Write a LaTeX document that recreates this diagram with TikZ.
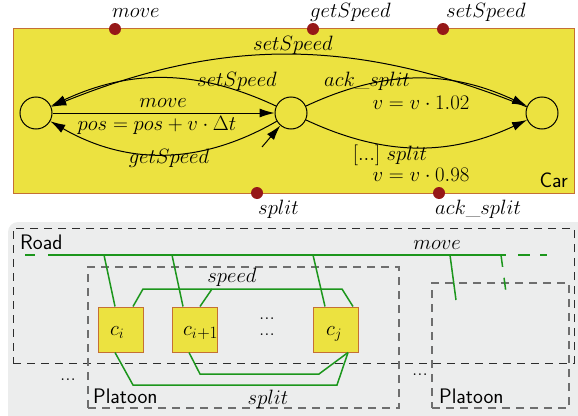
\documentclass[tikz,border=0pt]{standalone}
\usetikzlibrary{arrows.meta}
\definecolor{carfill}{RGB}{236,226,64}
\definecolor{carborder}{RGB}{196,112,52}
\definecolor{dotred}{RGB}{150,24,24}
\definecolor{glc}{RGB}{28,150,28}
\definecolor{bgc}{RGB}{236,237,237}
\definecolor{roadc}{RGB}{45,45,45}
\definecolor{platc}{RGB}{110,110,110}
\begin{document}
\begin{tikzpicture}[x=1pt,y=-1pt,
  every node/.style={font=\fontsize{21}{25}\selectfont},
  sf/.style={font=\fontsize{21}{25}\selectfont\sffamily},
  st/.style={circle,draw,minimum size=32pt,inner sep=0pt,line width=1pt},
  arc/.style={-{Latex[length=15pt,width=9pt]},line width=1pt},
  port/.style={circle,fill=dotred,minimum size=12pt,inner sep=0pt},
  lab/.style={inner sep=0pt},
  car/.style={draw=carborder,fill=carfill,line width=1pt,minimum size=45pt,inner sep=0pt},
  gl/.style={draw=glc,line width=1.5pt},
  roadbox/.style={draw=roadc,dash pattern=on 8pt off 6pt,line width=1pt,inner sep=0pt},
  platbox/.style={draw=platc,dash pattern=on 8pt off 6pt,line width=1.5pt,inner sep=0pt}]

\useasboundingbox (0,0) rectangle (578,415);

% ---------- Car automaton ----------
\node[draw=carborder,fill=carfill,line width=1pt,minimum width=561pt,minimum height=164.5pt,inner sep=0pt] (carbox) at (293.5,110.75) {};
\node[sf,lab,anchor=base east] (carlab) at (568,187) {Car};

\node[port] (pmove) at (115,29) {};
\node[port] (pget) at (313,29) {};
\node[port] (pset) at (443,29) {};
\node[port] (psplit) at (257,193) {};
\node[port] (pack) at (439,193) {};
\node[lab,anchor=base west] (tmove) at (112,17) {$move$};
\node[lab,anchor=base west] (tget) at (310,17) {$getSpeed$};
\node[lab,anchor=base west] (tset) at (446,17) {$setSpeed$};
\node[lab,anchor=base west] (tsplit) at (258,214) {$split$};
\node[lab,anchor=base west] (tack) at (435,214) {$ack\_split$};

\node[st] (L) at (36,113) {};
\node[st] (M) at (291,113) {};
\node[st] (R) at (542,113) {};
\coordinate (init) at (262,147);

\draw[arc] (init) -- (M);
\draw[arc] (L) -- (M);
\draw[arc] (M) to[bend right=25] (L);
\draw[arc] (M) to[bend left=30] (L);
\draw[arc] (R) to[bend right=22] (L);
\draw[arc] (M) to[bend left=25] (R);
\draw[arc] (M) to[bend right=25] (R);

\node[lab] (lmove) at (163,103) {$move$};
\node[lab] (lpos) at (157,125) {$pos = pos + v\cdot\Delta t$};
\node[lab] (lset1) at (237,81) {$setSpeed$};
\node[lab] (lget) at (169,158) {$getSpeed$};
\node[lab] (lset2) at (293,45.5) {$setSpeed$};
\node[lab] (lack) at (367,81) {$ack\_split$};
\node[lab] (lup) at (421,102.5) {$v = v\cdot 1.02$};
\node[lab] (lspl) at (390,155) {$[...]~split$};
\node[lab] (ldown) at (421,175) {$v = v\cdot 0.98$};

% ---------- Road / platoons ----------
\fill[bgc,rounded corners=10pt] (8,222) rectangle (600,440);
\node[roadbox,minimum width=561pt,minimum height=135pt] (road) at (293.5,295.5) {};
\node[platbox,minimum width=311pt,minimum height=141pt] (plat1) at (243.5,337.5) {};
\node[platbox,minimum width=137pt,minimum height=125pt] (plat2) at (500.5,345.5) {};
\node[sf,lab,anchor=base west] (troad) at (20,249) {Road};
\node[sf,lab,anchor=base west] (tplat1) at (93,403) {Platoon};
\node[sf,lab,anchor=base west] (tplat2) at (439,403) {Platoon};
\node[lab,anchor=base] (dl) at (68,380) {...};
\node[lab,anchor=base] (dr) at (420,375) {...};
\node[lab,align=center,font=\fontsize{21}{16}\selectfont,anchor=base] (dm) at (267,335) {...\\...};

\node[car] (ci) at (120.5,329.5) {};
\node[car] (ci1) at (194.5,329.5) {};
\node[car] (cj) at (336,329.5) {};
\node[lab,anchor=base west] (tci) at (110,335) {$c_i$};
\node[lab,anchor=base west] (tci1) at (183,335) {$c_{i}$\raisebox{-3pt}{\fontsize{17}{18}\selectfont$+1$}};
\node[lab,anchor=base west] (tcj) at (326,335) {$c_j$};

% move bus
\coordinate (m0) at (25,255);
\coordinate (m1) at (35,255);
\coordinate (m2) at (48,255);
\coordinate (m3) at (506,255);
\coordinate (m4) at (518,255);
\coordinate (m5) at (530,255);
\coordinate (m6) at (540,255);
\coordinate (m7) at (547,255);
\draw[gl] (m0) -- (m1);
\draw[gl] (m2) -- (m3);
\draw[gl] (m4) -- (m5);
\draw[gl] (m6) -- (m7);
\coordinate (j1) at (104,255);
\coordinate (j2) at (172,255);
\coordinate (j3) at (313,255);
\coordinate (j4) at (450,255);
\coordinate (j5) at (501,255);
\coordinate (e4) at (456,300);
\coordinate (e5) at (507,300);
\draw[gl] (j1) -- ([xshift=-5.5pt]ci.north);
\draw[gl] (j2) -- ([xshift=-11.5pt]ci1.north);
\draw[gl] (j3) -- ([xshift=-11pt]cj.north);
\draw[gl] (j4) -- (e4);
\draw[gl,dash pattern=on 12pt off 11pt] (j5) -- (e5);
\node[lab] (tmv) at (437,245.5) {$move$};

% speed
\coordinate (s1) at (143,289);
\coordinate (s2) at (342,289);
\coordinate (s3) at (212,289);
\draw[gl] ([xshift=12.5pt]ci.north) -- (s1) -- (s2) -- ([xshift=17pt]cj.north);
\draw[gl] ([xshift=5.5pt]ci1.north) -- (s3);
\node[lab] (tspeed) at (232,277.5) {$speed$};

% split
\coordinate (p1) at (133,385);
\coordinate (p2) at (337,385);
\coordinate (p3) at (200,374);
\coordinate (p4) at (319,374);
\draw[gl] ([xshift=-5.5pt]ci.south) -- (p1) -- (p2) -- ([xshift=12pt]cj.south);
\draw[gl] ([xshift=-5.5pt]ci1.south) -- (p3) -- (p4) -- ([xshift=12pt]cj.south);
\node[lab] (tsplt) at (268,399) {$split$};
\end{tikzpicture}
\end{document}
